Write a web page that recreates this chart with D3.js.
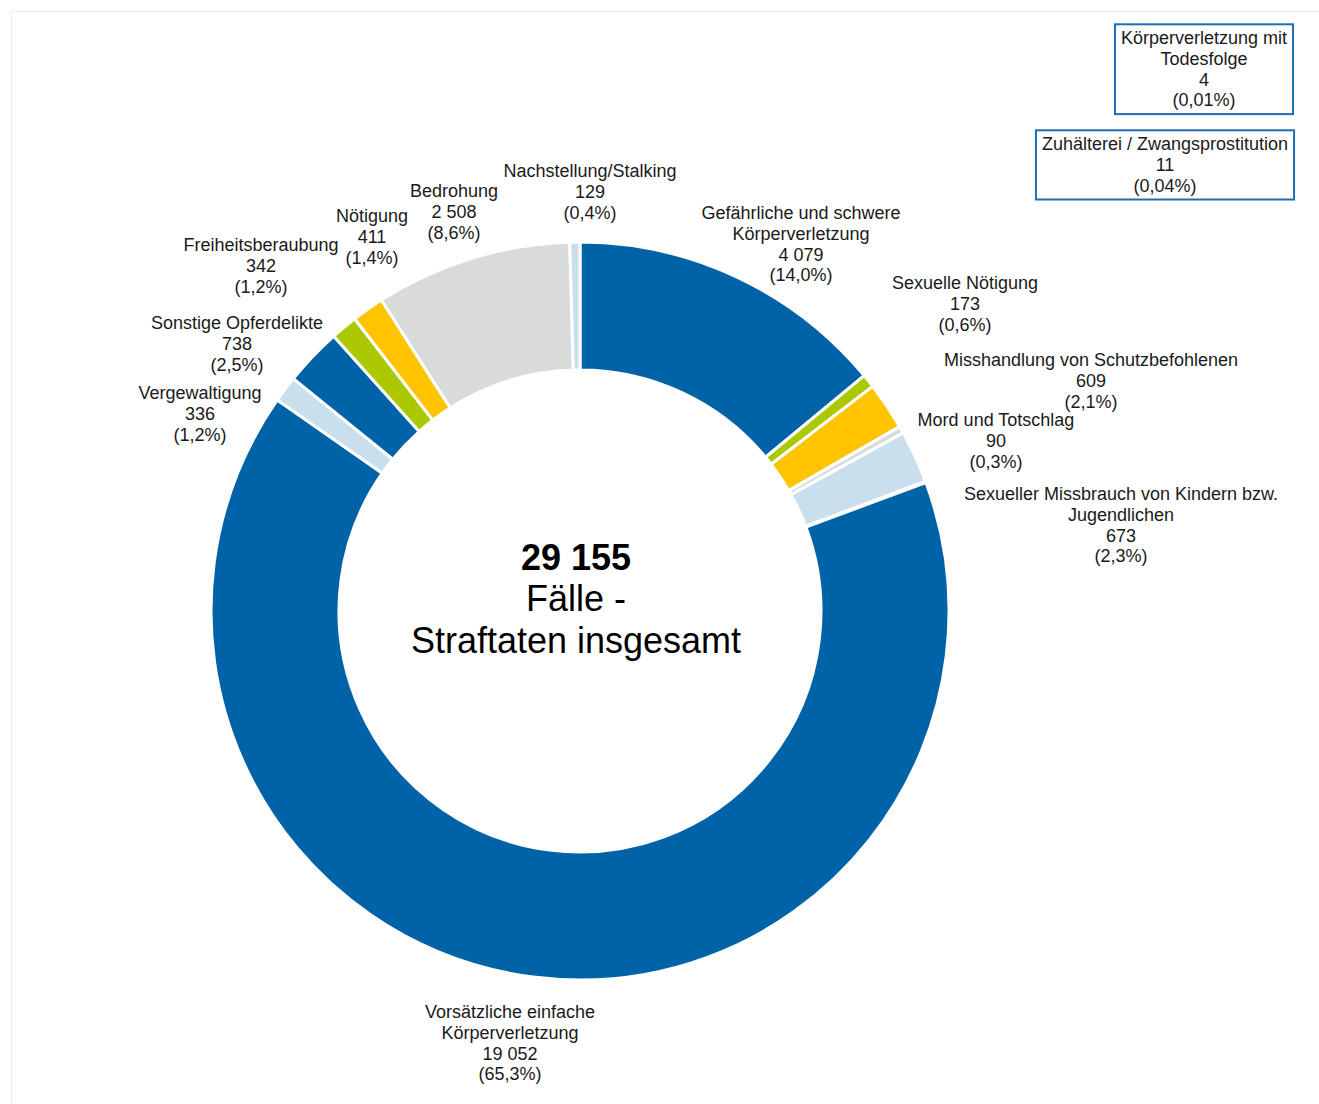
<!DOCTYPE html>
<html lang="de">
<head>
<meta charset="utf-8">
<title>Straftaten insgesamt</title>
<script src="https://cdn.jsdelivr.net/npm/d3@7"></script>
<style>
    html, body { margin: 0; padding: 0; background: #fff; }
    svg { display: block; font-family: "Liberation Sans", Arial, sans-serif; }
</style>
</head>
<body>
<div id="chart"></div>
<script>
// Slices, clockwise from 12 o'clock
const categories = [
    "Gefährliche und schwere Körperverletzung",
    "Sexuelle Nötigung",
    "Misshandlung von Schutzbefohlenen",
    "Mord und Totschlag",
    "Sexueller Missbrauch von Kindern bzw. Jugendlichen",
    "Körperverletzung mit Todesfolge",
    "Zuhälterei / Zwangsprostitution",
    "Vorsätzliche einfache Körperverletzung",
    "Vergewaltigung",
    "Sonstige Opferdelikte",
    "Freiheitsberaubung",
    "Nötigung",
    "Bedrohung",
    "Nachstellung/Stalking"
];
const values = [4079, 173, 609, 90, 673, 4, 11, 19052, 336, 738, 342, 411, 2508, 129];
const percents = ["14,0%", "0,6%", "2,1%", "0,3%", "2,3%", "0,01%", "0,04%", "65,3%", "1,2%", "2,5%", "1,2%", "1,4%", "8,6%", "0,4%"];
const valueLabels = ["4 079", "173", "609", "90", "673", "4", "11", "19 052", "336", "738", "342", "411", "2 508", "129"];
// label text broken into lines as in the original
const nameLines = [
    ["Gefährliche und schwere", "Körperverletzung"],
    ["Sexuelle Nötigung"],
    ["Misshandlung von Schutzbefohlenen"],
    ["Mord und Totschlag"],
    ["Sexueller Missbrauch von Kindern bzw.", "Jugendlichen"],
    ["Körperverletzung mit", "Todesfolge"],
    ["Zuhälterei / Zwangsprostitution"],
    ["Vorsätzliche einfache", "Körperverletzung"],
    ["Vergewaltigung"],
    ["Sonstige Opferdelikte"],
    ["Freiheitsberaubung"],
    ["Nötigung"],
    ["Bedrohung"],
    ["Nachstellung/Stalking"]
];
const colorGroup = ["blue", "green", "yellow", "grey", "light", "blue", "blue", "blue", "light", "blue", "green", "yellow", "grey", "light"];
const totalLabel = "29 155";
const centerLines = ["Fälle -", "Straftaten insgesamt"];

// label anchors (centre x, first line y) and whether the label is boxed
const labelPos = [
    [801, 213], [965, 283], [1091, 360], [996, 420], [1121, 494],
    [1204, 38], [1165, 144], [510, 1012], [200, 393], [237, 323],
    [261, 245], [372, 216], [454, 191], [590, 171]
];
const boxed = [false, false, false, false, false, true, true, false, false, false, false, false, false, false];

const width = 1319, height = 1104;
const cx = 580, cy = 611, outerR = 369, innerR = 241;
const lineH = 20.6;

const color = d3.scaleOrdinal()
    .domain(["blue", "green", "yellow", "grey", "light"])
    .range(["#0062a7", "#abc800", "#ffc300", "#d9dada", "#c9dfee"]);

const data = categories.map((c, i) => ({ name: c, value: values[i], i }));

const svg = d3.select("#chart")
    .append("svg")
    .attr("width", width)
    .attr("height", height);

// faint frame
svg.append("rect")
    .attr("x", 11.5).attr("y", 11.5)
    .attr("width", 1400).attr("height", 1200)
    .attr("fill", "none")
    .attr("stroke", "#ececec");

const pie = d3.pie().sort(null).value(d => d.value);
const arc = d3.arc().innerRadius(innerR).outerRadius(outerR);

svg.append("g")
    .attr("transform", `translate(${cx},${cy})`)
    .selectAll("path")
    .data(pie(data))
    .join("path")
    .attr("d", arc)
    .attr("fill", d => color(colorGroup[d.data.i]))
    .attr("stroke", "#fff")
    .attr("stroke-width", 3);

// centre text
const center = svg.append("text")
    .attr("text-anchor", "middle")
    .attr("fill", "#000")
    .style("font-size", "36px");
center.append("tspan")
    .attr("x", 576).attr("y", 557).attr("dy", "0.35em")
    .style("font-weight", "bold")
    .text(totalLabel);
centerLines.forEach((t, k) => {
    center.append("tspan")
        .attr("x", 576).attr("y", 598 + k * 42).attr("dy", "0.35em")
        .text(t);
});

// labels
const labels = svg.append("g").style("font-size", "18px").attr("fill", "#1a1a1a");
data.forEach((d, i) => {
    const lines = nameLines[i].concat([valueLabels[i], "(" + percents[i] + ")"]);
    const [x, y] = labelPos[i];
    const g = labels.append("g");
    const t = g.append("text").attr("text-anchor", "middle");
    lines.forEach((s, k) => {
        t.append("tspan")
            .attr("x", x)
            .attr("y", y + k * lineH)
            .attr("dy", "0.35em")
            .text(s);
    });
    if (boxed[i]) {
        const bb = t.node().getBBox();
        g.insert("rect", "text")
            .attr("x", bb.x - 6).attr("y", bb.y - 4)
            .attr("width", bb.width + 12).attr("height", bb.height + 8)
            .attr("fill", "#fff")
            .attr("stroke", "#1f6db3")
            .attr("stroke-width", 2);
    }
});
</script>
</body>
</html>
